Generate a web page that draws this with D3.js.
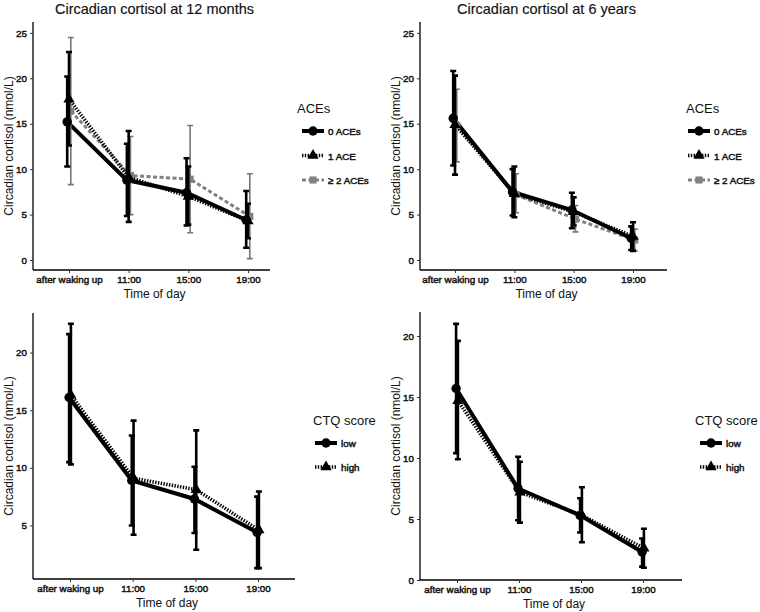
<!DOCTYPE html>
<html>
<head>
<meta charset="utf-8">
<script src="https://cdn.jsdelivr.net/npm/d3@7"></script>
<style>
  body { margin: 0; background: #fff; }
  svg { display: block; font-family: "Liberation Sans", Arial, sans-serif; }
</style>
</head>
<body>
<svg id="chart" width="760" height="612"></svg>
<script>
// cortisol curves, four panels: ACEs / CTQ at 12 months and 6 years
const times = ["after waking up", "11:00", "15:00", "19:00"];
const aceGroups = ["0 ACEs", "1 ACE", "≥ 2 ACEs"];
const ctqGroups = ["low", "high"];

// ACEs, 12 months (rows = groups)
const ace12Mean = [[15.2, 8.8, 7.4, 4.4], [17.7, 9.1, 7.0, 4.3], [16.4, 9.3, 8.9, 4.8]];
const ace12Low = [[10.3, 4.85, 3.8, 1.35], [12.6, 4.2, 3.9, 2.4], [8.3, 5.0, 3.0, 0.15]];
const ace12High = [[20.2, 12.8, 11.2, 7.6], [22.9, 14.2, 10.3, 6.2], [24.5, 13.6, 14.8, 9.5]];

// ACEs, 6 years
const ace6Mean = [[15.6, 7.5, 5.5, 2.4], [14.9, 7.3, 5.3, 2.6], [14.8, 7.2, 4.5, 2.2]];
const ace6Low = [[10.4, 4.9, 3.5, 1.1], [9.4, 4.7, 3.8, 1.0], [10.8, 5.2, 3.1, 1.0]];
const ace6High = [[20.8, 10.0, 7.4, 3.7], [20.3, 10.3, 6.9, 4.15], [18.8, 9.5, 6.0, 3.4]];

// CTQ, 12 months
const ctq12Mean = [[16.1, 8.9, 7.3, 4.4], [16.3, 9.1, 8.1, 4.6]];
const ctq12Low = [[10.5, 5.0, 4.35, 1.3], [10.3, 4.2, 2.9, 1.3]];
const ctq12High = [[21.6, 12.8, 10.1, 7.5], [22.5, 14.1, 13.25, 7.95]];

// CTQ, 6 years
const ctq6Mean = [[15.7, 7.5, 5.3, 2.3], [14.7, 7.2, 5.3, 2.6]];
const ctq6Low = [[10.4, 4.9, 3.9, 1.1], [9.9, 4.7, 3.1, 1.0]];
const ctq6High = [[21.0, 10.1, 6.7, 3.4], [19.6, 9.7, 7.6, 4.2]];

const STYLES = [
  { color: "#000", width: 4, dash: null, shape: d3.symbolCircle, size: 70, barColor: "#000", barWidth: 2.6 },
  { color: "#000", width: 3.6, dash: "1.4,1.4", shape: d3.symbolTriangle, size: 55, barColor: "#000", barWidth: 2.6 },
  { color: "#808080", width: 3, dash: "4,2.5", shape: d3.symbolSquare, size: 50, barColor: "#777", barWidth: 1.6 },
];

const panels = [
  { title: "Circadian cortisol at 12 months", x0: 33, x1: 270, yTop: 22, yBot: 270, cx: [69, 248],
    domain: [-1.1, 26.2], ticks: [0, 5, 10, 15, 20, 25], groups: aceGroups,
    mean: ace12Mean, lo: ace12Low, hi: ace12High, legendTitle: "ACEs", lx: 297, ly: 108, kx: 302, gap: 24.5 },
  { title: "Circadian cortisol at 6 years", x0: 420, x1: 667, yTop: 22, yBot: 270, cx: [455, 633],
    domain: [-1.1, 26.2], ticks: [0, 5, 10, 15, 20, 25], groups: aceGroups,
    mean: ace6Mean, lo: ace6Low, hi: ace6High, legendTitle: "ACEs", lx: 686, ly: 108, kx: 688, gap: 24.5 },
  { title: null, x0: 33, x1: 295, yTop: 313, yBot: 579, cx: [70, 258],
    domain: [0.36, 23.43], ticks: [5, 10, 15, 20], groups: ctqGroups,
    mean: ctq12Mean, lo: ctq12Low, hi: ctq12High, legendTitle: "CTQ score", lx: 313, ly: 420, kx: 315, gap: 24 },
  { title: null, x0: 420, x1: 682, yTop: 312, yBot: 580, cx: [457, 643],
    domain: [0, 21.97], ticks: [0, 5, 10, 15, 20], groups: ctqGroups,
    mean: ctq6Mean, lo: ctq6Low, hi: ctq6High, legendTitle: "CTQ score", lx: 695, ly: 420, kx: 700, gap: 24 },
];

const svg = d3.select("#chart");

panels.forEach(drawPanel);

// jpeg-ish heavier text: thin stroke on top of the fill
function heavy(sel, w) {
  return sel.attr("stroke", "#111").attr("stroke-width", w).attr("paint-order", "stroke");
}

function drawPanel(p) {
  const g = svg.append("g");
  const x = d3.scalePoint().domain(times).range(p.cx);
  const y = d3.scaleLinear().domain(p.domain).range([p.yBot, p.yTop]);
  const n = p.groups.length;
  const dodge = (gi) => (gi - (n - 1) / 2) * 1.8;

  // axes
  const ya = g.append("g").attr("transform", `translate(${p.x0},0)`)
    .call(d3.axisLeft(y).tickValues(p.ticks).tickSize(3).tickPadding(3));
  const xa = g.append("g").attr("transform", `translate(0,${p.yBot})`)
    .call(d3.axisBottom(x).tickSize(3).tickPadding(3));
  ya.select(".domain").attr("d", `M0,${p.yTop}V${p.yBot}`);
  xa.select(".domain").attr("d", `M${p.x0},0H${p.x1}`);
  for (const a of [ya, xa]) {
    a.select(".domain").attr("stroke", "#000").attr("stroke-width", 1.3);
    a.selectAll(".tick line").attr("stroke", "#333");
    heavy(a.selectAll(".tick text").attr("fill", "#111").attr("font-size", 9.8)
      .attr("font-family", "Liberation Sans, Arial, sans-serif"), 0.45);
  }

  // titles
  const cxMid = (p.x0 + p.x1) / 2;
  if (p.title) {
    heavy(g.append("text").attr("x", cxMid + 3).attr("y", 14).attr("text-anchor", "middle")
      .attr("font-size", 14.5).attr("fill", "#111").text(p.title), 0.15);
  }
  g.append("text").attr("x", cxMid + 3).attr("y", p.yBot + 28).attr("text-anchor", "middle")
    .attr("font-size", 12).attr("fill", "#111").text("Time of day");
  g.append("text")
    .attr("transform", `translate(${p.x0 - 20},${(p.yTop + p.yBot) / 2}) rotate(-90)`)
    .attr("text-anchor", "middle").attr("font-size", 12).attr("fill", "#111")
    .text("Circadian cortisol (nmol/L)");

  // series: lines first, then bars, then points
  const line = d3.line().x((d) => d.x).y((d) => d.y);
  const series = p.groups.map((name, gi) => times.map((t, ti) => ({
    x: x(t) + dodge(gi), y: y(p.mean[gi][ti]), lo: y(p.lo[gi][ti]), hi: y(p.hi[gi][ti]),
  })));

  series.slice().reverse().forEach((pts, ri) => {
    const gi = n - 1 - ri;
    const s = STYLES[gi];
    g.append("path").attr("d", line(pts)).attr("fill", "none").attr("stroke", s.color)
      .attr("stroke-width", s.width).attr("stroke-dasharray", s.dash);
  });

  series.slice().reverse().forEach((pts, ri) => {
    const gi = n - 1 - ri;
    const s = STYLES[gi];
    const bars = g.append("g").attr("stroke", s.barColor).attr("stroke-width", s.barWidth).attr("fill", "none");
    bars.selectAll("path").data(pts).join("path")
      .attr("d", (d) => `M${d.x},${d.hi}V${d.lo}M${d.x - 3},${d.hi}H${d.x + 3}M${d.x - 3},${d.lo}H${d.x + 3}`);
    g.selectAll(null).data(pts).join("path")
      .attr("transform", (d) => `translate(${d.x},${d.y})`)
      .attr("d", d3.symbol(s.shape, s.size)).attr("fill", s.color);
  });

  // legend
  const lg = g.append("g");
  lg.append("text").attr("x", p.lx).attr("y", p.ly + 5).attr("font-size", 13).attr("fill", "#111").text(p.legendTitle);
  p.groups.forEach((name, gi) => {
    const s = STYLES[gi];
    const ky = p.ly + 23 + gi * p.gap;
    lg.append("path").attr("d", `M${p.kx},${ky}H${p.kx + 22}`).attr("stroke", s.color)
      .attr("stroke-width", s.width).attr("stroke-dasharray", s.dash);
    lg.append("path").attr("transform", `translate(${p.kx + 11},${ky})`)
      .attr("d", d3.symbol(s.shape, s.size)).attr("fill", s.color);
    heavy(lg.append("text").attr("x", p.kx + 26).attr("y", ky + 4).attr("font-size", 9.8)
      .attr("fill", "#111").text(name), 0.45);
  });
}
</script>
</body>
</html>
